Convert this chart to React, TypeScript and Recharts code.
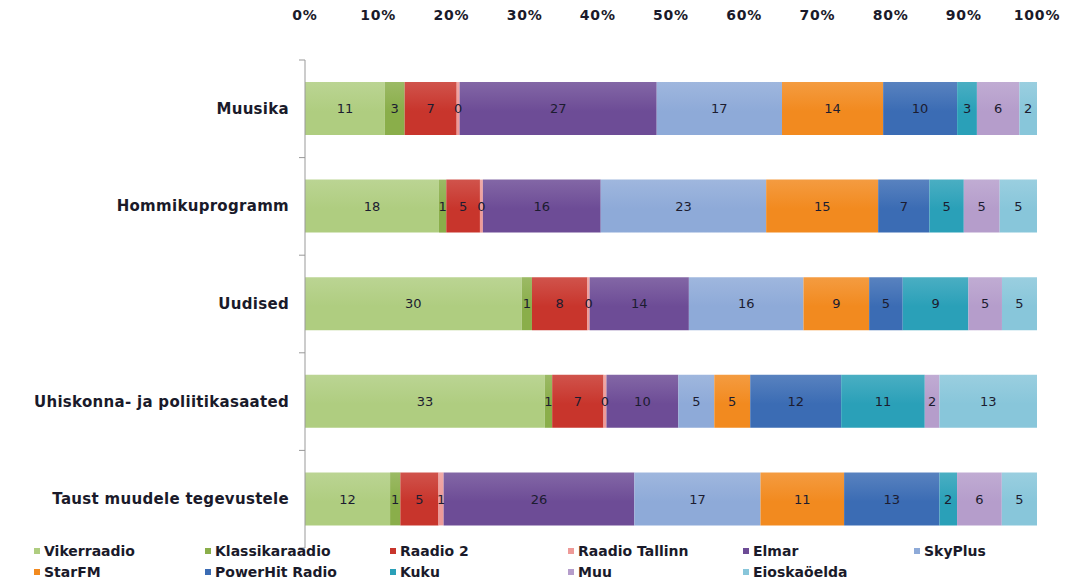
import { Bar, BarChart, LabelList, XAxis, YAxis } from 'recharts';

const categories = [
  'Muusika',
  'Hommikuprogramm',
  'Uudised',
  'Uhiskonna- ja poliitikasaated',
  'Taust muudele tegevustele',
];

const vikerraadio = [10.9, 18.3, 29.7, 32.7, 11.6];
const klassikaraadio = [2.7, 1.0, 1.4, 1.0, 1.4];
const raadio2 = [7.1, 4.6, 7.6, 7.0, 5.2];
const raadioTallinn = [0.4, 0.4, 0.3, 0.4, 0.7];
const elmar = [26.9, 16.1, 13.6, 9.8, 26.0];
const skyPlus = [17.1, 22.6, 15.7, 4.9, 17.2];
const starFm = [13.8, 15.3, 9.0, 4.9, 11.4];
const powerHit = [10.1, 7.0, 4.6, 12.4, 13.0];
const kuku = [2.7, 4.7, 9.0, 11.4, 2.4];
const muu = [5.8, 4.9, 4.6, 2.0, 6.1];
const eiOska = [2.4, 5.1, 4.8, 13.3, 4.8];

const percentTicks = [0, 0.1, 0.2, 0.3, 0.4, 0.5, 0.6, 0.7, 0.8, 0.9, 1];

const series = [
  { key: 'vikerraadio', name: 'Vikerraadio', values: vikerraadio, color: '#afcd80' },
  { key: 'klassikaraadio', name: 'Klassikaraadio', values: klassikaraadio, color: '#8aae4a' },
  { key: 'raadio2', name: 'Raadio 2', values: raadio2, color: '#c8352c' },
  { key: 'raadioTallinn', name: 'Raadio Tallinn', values: raadioTallinn, color: '#ee9a98' },
  { key: 'elmar', name: 'Elmar', values: elmar, color: '#6d4c96' },
  { key: 'skyPlus', name: 'SkyPlus', values: skyPlus, color: '#8eaad8' },
  { key: 'starFm', name: 'StarFM', values: starFm, color: '#f28a1f' },
  { key: 'powerHit', name: 'PowerHit Radio', values: powerHit, color: '#3b6cb4' },
  { key: 'kuku', name: 'Kuku', values: kuku, color: '#2aa0b8' },
  { key: 'muu', name: 'Muu', values: muu, color: '#b59dcb' },
  { key: 'eiOska', name: 'Eioskaöelda', values: eiOska, color: '#88c6da' },
];

const chartData = categories.map((category, i) => {
  const row: Record<string, string | number> = { category };
  series.forEach(s => {
    row[s.key] = s.values[i];
  });
  return row;
});

const font = '"DejaVu Sans", Tahoma, sans-serif';

function CategoryTick(props: any) {
  const { x, y, payload, index, visibleTicksCount } = props;
  const half = payload && payload.offset ? payload.offset : 0;
  const axisX = x + 16;
  return (
    <g>
      <text
        x={x}
        y={y}
        dy={5}
        textAnchor="end"
        fontFamily={font}
        fontSize={15}
        fontWeight={600}
        letterSpacing={0.3}
        fill="#1a1a2a"
      >
        {payload.value}
      </text>
      {half ? (
        <line x1={axisX - 6} x2={axisX} y1={y - half} y2={y - half} stroke="#999" />
      ) : null}
      {half && index === visibleTicksCount - 1 ? (
        <line x1={axisX - 6} x2={axisX} y1={y + half} y2={y + half} stroke="#999" />
      ) : null}
    </g>
  );
}

function roundLabel(value: any) {
  return Math.round(Number(value));
}

export default function App() {
  return (
    <div style={{ position: 'absolute', left: 0, top: 0, width: 1070, height: 585, background: '#fff' }}>
      <BarChart
        width={1070}
        height={585}
        data={chartData}
        layout="vertical"
        stackOffset="expand"
        barSize={53}
        margin={{ top: 0, right: 33, left: 0, bottom: 37 }}
      >
        <defs>
          {series.map(s => (
            <linearGradient key={s.key} id={`grad-${s.key}`} x1="0" y1="0" x2="0" y2="1">
              <stop offset="0%" stopColor={s.color} stopOpacity={0.85} />
              <stop offset="55%" stopColor={s.color} stopOpacity={1} />
              <stop offset="100%" stopColor={s.color} stopOpacity={1} />
            </linearGradient>
          ))}
        </defs>
        <XAxis
          type="number"
          orientation="top"
          domain={[0, 1]}
          ticks={percentTicks}
          tickFormatter={v => `${Math.round(Number(v) * 100)}%`}
          height={60}
          axisLine={false}
          tickLine={false}
          tickMargin={34}
          tick={{ fontFamily: font, fontSize: 14, fontWeight: 600, fill: '#1a1a2a', letterSpacing: 0.8 }}
          interval={0}
        />
        <YAxis
          type="category"
          dataKey="category"
          width={305}
          tickSize={0}
          tickMargin={16}
          axisLine={{ stroke: '#999' }}
          tick={<CategoryTick />}
          interval={0}
        />
        {series.map(s => (
          <Bar
            key={s.key}
            dataKey={s.key}
            name={s.name}
            stackId="a"
            fill={`url(#grad-${s.key})`}
            isAnimationActive={false}
          >
            <LabelList
              dataKey={s.key}
              position="center"
              formatter={roundLabel}
              style={{ fontFamily: font, fontSize: 13, fill: '#1c1c30' }}
            />
          </Bar>
        ))}
      </BarChart>
      <div
        style={{
          position: 'absolute',
          left: 34,
          top: 541,
          width: 1050,
          display: 'grid',
          gridTemplateColumns: '171px 185px 178px 175px 171px 150px',
          rowGap: 2,
          fontFamily: font,
          fontSize: 14,
          fontWeight: 600,
          color: '#1a1a2a',
        }}
      >
        {series.map(s => (
          <div key={s.key} style={{ display: 'flex', alignItems: 'center', height: 19, whiteSpace: 'nowrap' }}>
            <span style={{ display: 'inline-block', width: 6, height: 6, background: s.color, marginRight: 4 }} />
            {s.name}
          </div>
        ))}
      </div>
    </div>
  );
}
